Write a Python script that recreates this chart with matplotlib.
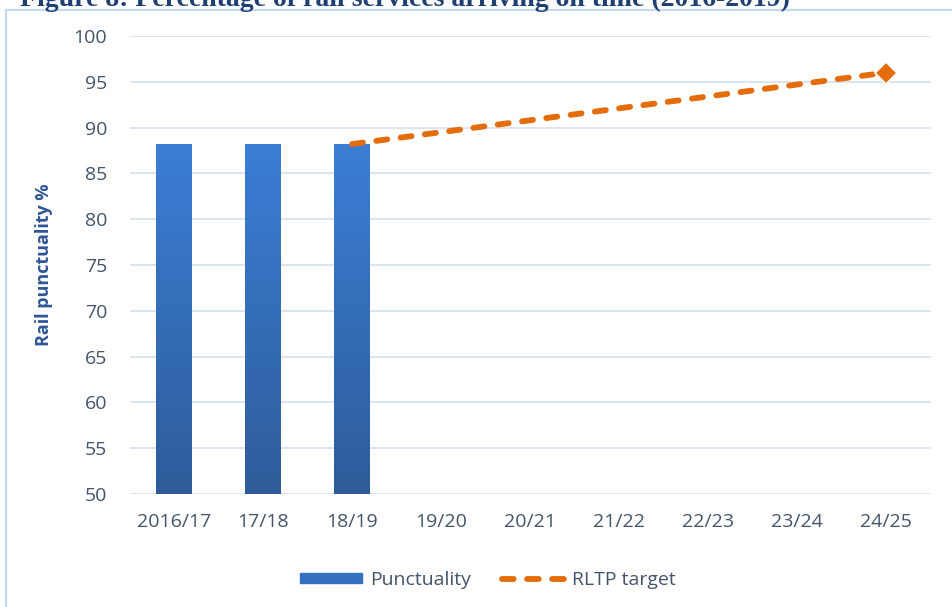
import matplotlib
matplotlib.use("Agg")
import matplotlib.pyplot as plt
import numpy as np
from matplotlib.patches import Rectangle
from matplotlib.lines import Line2D
from matplotlib.colors import LinearSegmentedColormap

categories = ["2016/17", "17/18", "18/19", "19/20", "20/21", "21/22", "22/23", "23/24", "24/25"]
punctuality = [88.2, 88.2, 88.2]
target_labels = ["18/19", "19/20", "20/21", "21/22", "22/23", "23/24", "24/25"]
target = [88.2, 89.5, 90.8, 92.1, 93.4, 94.7, 96.0]
yticks = [50, 55, 60, 65, 70, 75, 80, 85, 90, 95, 100]

plt.rcParams['font.family'] = ['Open Sans', 'DejaVu Sans']
text_col = "#44546A"
grid_col = "#D9E1F0"
orange = "#E46C0A"

W, H = 952, 607
fig = plt.figure(figsize=(W / 100, H / 100), dpi=100)
ax = fig.add_axes([129.5 / W, 1 - 494 / H, 801 / W, 458 / H])

# outer frame
fig.patches.append(Rectangle((6 / W, -0.02), 1.1, 1 - 10 / H + 0.02, transform=fig.transFigure,
                             fill=False, edgecolor="#C9DAF0", linewidth=1.6))

x = np.arange(len(categories))
bw = 0.40
bars = ax.bar(x[:len(punctuality)], punctuality, width=bw, color="#3470C0", zorder=2)
grad = np.linspace(0, 1, 256).reshape(-1, 1)
cmap = LinearSegmentedColormap.from_list("g", ["#2E5C99", "#3B7ED6"])
for b in bars:
    bx, by = b.get_x(), b.get_y()
    w, h = b.get_width(), b.get_height()
    im = ax.imshow(grad, extent=[bx, bx + w, 50, by + h], aspect='auto', cmap=cmap,
                   origin='lower', zorder=3)
    im.set_clip_path(b)

tx = [categories.index(l) for l in target_labels]
ax.plot(tx, target, color=orange, linewidth=4.2, dashes=(1.9, 2.3),
        dash_capstyle='round', zorder=4)
ax.plot(tx[-1], target[-1], marker='D', markersize=11, color=orange, markeredgecolor="white",
        markeredgewidth=1.2, zorder=5, linestyle='none')

ax.set_xlim(-0.5, len(categories) - 0.5)
ax.set_ylim(50, 100)
ax.set_yticks(yticks)
ax.set_xticks(x)
ax.set_xticklabels(categories)
ax.yaxis.grid(True, color=grid_col, linewidth=1.3, zorder=0)
ax.set_axisbelow(True)
for s in ax.spines.values():
    s.set_visible(False)
ax.tick_params(axis='both', length=0, colors=text_col, labelsize=14)
ax.tick_params(axis='y', pad=16)
ax.tick_params(axis='x', pad=14)
ax.set_ylabel("Rail punctuality %", color="#2F5597", fontsize=13, fontweight='bold')
ax.yaxis.set_label_coords((53 - 129.5) / 801, 0.5)

handles = [Rectangle((0, 0), 1, 1, color="#3470C0"),
           Line2D([0], [0], color=orange, linewidth=4.2, dashes=(2.0, 2.3), dash_capstyle='round')]
fig.legend(handles, ["Punctuality", "RLTP target"], loc='center', bbox_to_anchor=(488 / W, 1 - 580 / H),
           ncol=2, frameon=False, fontsize=14, labelcolor=text_col, handlelength=3.2,
           handleheight=0.35, handletextpad=0.4, columnspacing=1.6)

fig.text(20 / W, 1 - 6 / H, "Figure 8: Percentage of rail services arriving on time (2016-2019)",
         family=['Liberation Serif'], fontweight='bold', fontsize=20, color="#1F3F73",
         va='baseline', ha='left')

fig.savefig("out.png", dpi=100)
